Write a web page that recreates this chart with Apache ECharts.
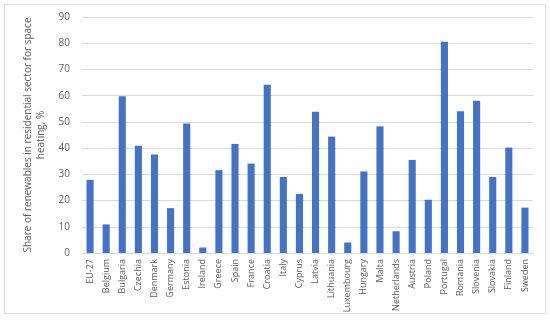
<!DOCTYPE html>
<html><head><meta charset="utf-8">
<script src="https://cdn.jsdelivr.net/npm/echarts@6/dist/echarts.min.js"></script>
<style>html,body{margin:0;padding:0;background:#fff}#c{width:550px;height:322px}</style>
</head><body><div id="c"></div>
<script>
const categories = ["EU-27","Belgium","Bulgaria","Czechia","Denmark","Germany","Estonia","Ireland","Greece","Spain","France","Croatia","Italy","Cyprus","Latvia","Lithuania","Luxembourg","Hungary","Malta","Netherlands","Austria","Poland","Portugal","Romania","Slovenia","Slovakia","Finland","Sweden"];
const shares = [27.9,10.9,59.8,40.9,37.6,17.1,49.4,2.1,31.6,41.6,34.1,64.2,29.0,22.5,53.9,44.4,4.0,31.1,48.3,8.3,35.5,20.3,80.6,54.1,58.1,29.0,40.2,17.3];
const yTicks = {min:0, max:90, interval:10};
const yTitle = "Share of renewables in residential sector for space\nheating, %";

const chart = echarts.init(document.getElementById('c'), null, {renderer:'canvas'});
chart.setOption({
  animation:false,
  textStyle:{fontFamily:'Open Sans, Noto Sans, sans-serif'},
  graphic:[{type:'rect',shape:{x:4.5,y:4.5,width:541,height:309},style:{fill:'none',stroke:'#d9d9d9',lineWidth:1},silent:true}],
  grid:{left:82,right:17,top:17,bottom:69},
  xAxis:{type:'category',data:categories,
    axisLine:{lineStyle:{color:'#d9d9d9'}},axisTick:{show:false},
    axisLabel:{rotate:90,interval:0,color:'#595959',fontSize:9,margin:6}},
  yAxis:{type:'value',min:yTicks.min,max:yTicks.max,interval:yTicks.interval,
    name:yTitle,nameLocation:'middle',nameGap:31,nameRotate:90,
    nameTextStyle:{color:'#595959',fontSize:10,lineHeight:13,align:'center'},
    axisLine:{show:false},axisTick:{show:false},
    axisLabel:{color:'#595959',fontSize:10,margin:12},
    splitLine:{lineStyle:{color:'#d9d9d9'}}},
  series:[{type:'bar',data:shares,barWidth:'44%',itemStyle:{color:'#4472C4'}}]
});
</script></body></html>
